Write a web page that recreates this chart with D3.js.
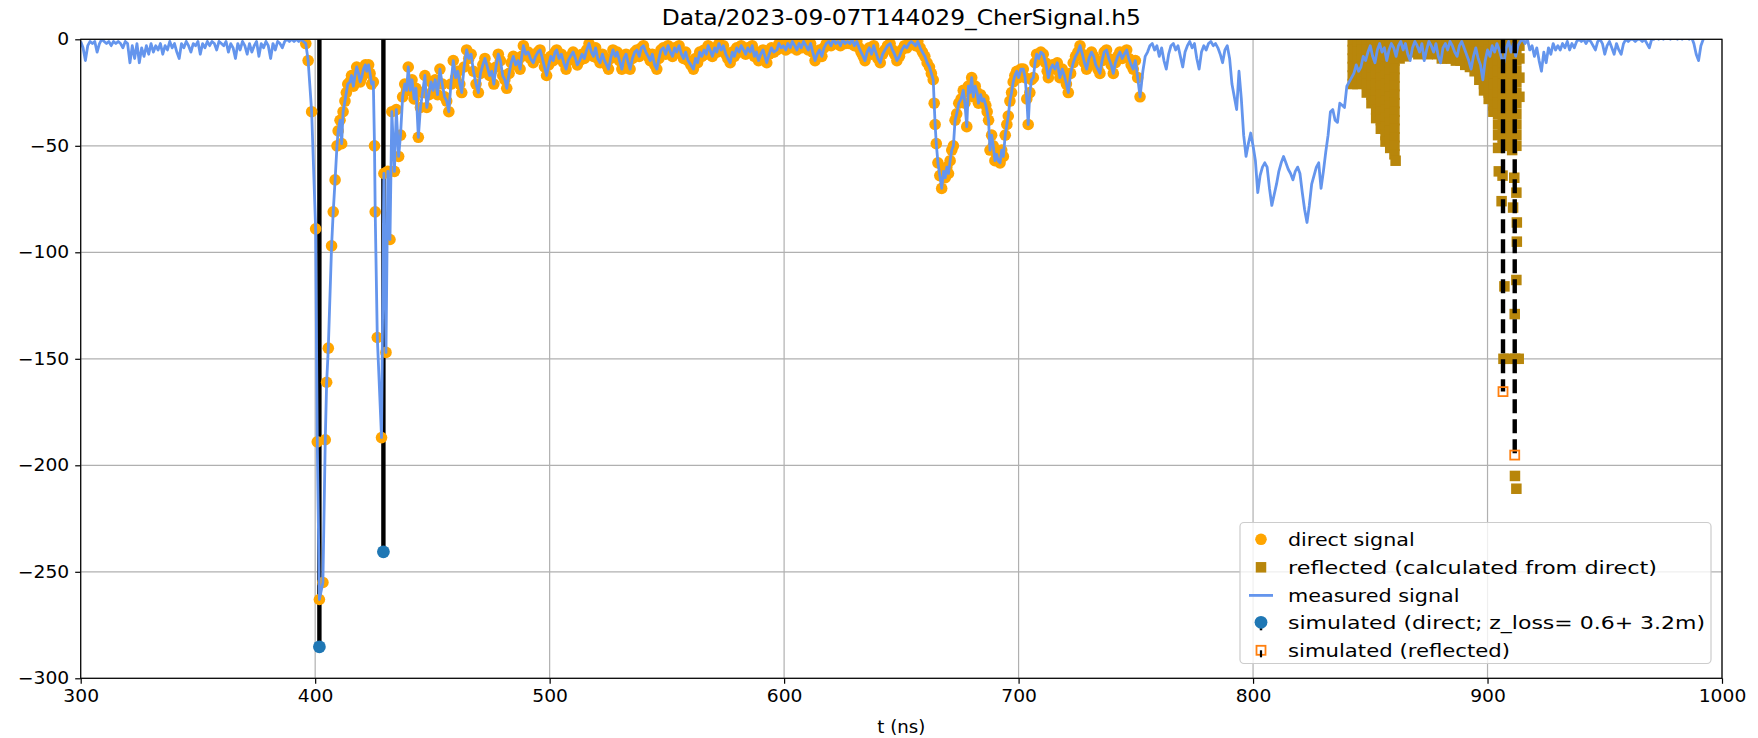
<!DOCTYPE html>
<html>
<head>
<meta charset="utf-8">
<script src="https://cdn.jsdelivr.net/npm/d3@7"></script>
<style>
  html, body { margin: 0; padding: 0; background: #fff; }
  svg { display: block; font-family: "DejaVu Sans", sans-serif; }
</style>
</head>
<body>
<svg id="chart" width="1758" height="738"></svg>
<script>
// ---- data -------------------------------------------------------------
const titleText = "Data/2023-09-07T144029_CherSignal.h5";
const xLabel = "t (ns)";
const xTicks = [300, 400, 500, 600, 700, 800, 900, 1000];
const yTicks = [0, -50, -100, -150, -200, -250, -300];

// measured signal before the direct window [t (ns), amplitude]
const measuredPre = [
[300,-1],[301,-4],[302,-10],[303,-3],[304,-1],[305,-2],[306,-1],[307,-6],[308,-2],[309,0],
[310,-1],[311,-2],[312,-1],[313,-3],[314,-1],[315,-2],[316,-1],[317,-2],[318,-4],[319,-1],
[320,-2],[321,-11],[322,-3],[323,-9],[324,-2],[325,-11],[326,-4],[327,-8],[328,-3],[329,-7],
[330,-2],[331,-6],[332,-3],[333,-5],[334,-2],[335,-7],[336,-3],[337,-5],[338,-1],[339,-4],
[340,-2],[341,-6],[342,-9],[343,-2],[344,-4],[345,-1],[346,-3],[347,-6],[348,-2],[349,-3],
[350,-1],[351,-7],[352,-2],[353,-4],[354,-1],[355,-3],[356,-1],[357,-2],[358,-5],[359,-1],
[360,-2],[361,-3],[362,-1],[363,-6],[364,-2],[365,-4],[366,-9],[367,-2],[368,-5],[369,-1],
[370,-3],[371,-7],[372,-2],[373,-6],[374,-3],[375,-1],[376,-8],[377,-2],[378,-4],[379,-1],
[380,-3],[381,-9],[382,-2],[383,-5],[384,-1],[385,-2],[386,-4],[387,-1],[388,0],[389,-1],
[390,0],[391,-1],[392,0],[393,-1],[394,0],[395,-1]
];

// direct signal [t (ns), amplitude]
const directSignal = [
[396,-2],[397,-10],[398.5,-34],[400.2,-89],[400.9,-189],[401.8,-263],[403.3,-255],[404.3,-188],[404.9,-161],[405.6,-145],
[407.0,-97],[407.7,-81],[408.5,-66],[409.3,-50],[409.8,-43],[410.6,-38],[411.3,-49],[411.9,-34],[412.7,-29],[413.3,-25],
[413.9,-21],[414.8,-20],[415.5,-17],[416.3,-22],[417.0,-17],[417.7,-13],[418.5,-16],[419.2,-20],[419.8,-18],[420.6,-14],
[421.4,-12],[422.0,-15],[422.8,-12],[423.4,-16],[424.1,-21],[424.8,-20],[425.3,-50],[425.6,-81],[426.5,-140],[428.3,-187],
[429.3,-63],[430.2,-147],[431.0,-62],[431.9,-94],[432.7,-34],[433.8,-62],[434.6,-33],[435.6,-55],[436.4,-45],[437.3,-27],
[438.2,-21],[439.0,-24],[439.7,-13],[440.5,-24],[441.3,-19],[442.2,-28],[443.0,-23],[444.0,-46],[444.9,-32],[445.8,-25],
[446.8,-17],[447.6,-32],[448.5,-26],[449.4,-20],[450.3,-24],[451.2,-19],[452.2,-26],[453.2,-14],[454.2,-21],[455.2,-27],
[456.1,-29],[457.0,-34],[457.9,-21],[458.9,-10],[459.9,-18],[460.8,-15],[461.7,-21],[462.5,-25],[463.5,-13],[464.6,-5],
[465.5,-9],[466.5,-7],[467.5,-15],[468.6,-21],[469.6,-25],[470.5,-16],[471.5,-12],[472.4,-9],[473.4,-13],[474.4,-17],
[475.3,-15],[476.2,-21],[477.1,-13],[478.1,-7],[479.0,-10],[480.0,-17],[480.9,-19],[481.7,-23],[482.7,-16],[483.6,-11],
[484.5,-8],[485.5,-12],[486.5,-10],[487.4,-14],[488.1,-8],[488.8,-3],[489.8,-7],[490.8,-6],[491.8,-9],[493.0,-11],
[494.0,-8],[495.0,-6],[495.9,-5],[496.9,-9],[497.8,-13],[498.7,-17],[499.6,-12],[500.5,-8],[501.5,-10],[502.3,-6],
[503.0,-5],[504.0,-9],[505.0,-7],[506.0,-11],[507.0,-14],[507.9,-10],[508.9,-8],[510.0,-6],[511.0,-9],[511.8,-12],
[512.8,-10],[513.8,-7],[514.8,-9],[515.8,-5],[516.8,-2],[517.8,-6],[518.7,-8],[519.6,-4],[520.5,-9],[521.5,-11],
[522.5,-7],[523.4,-10],[524.3,-12],[525.1,-14],[526.0,-9],[527.0,-5],[528.0,-8],[528.8,-6],[529.8,-10],[530.8,-14],
[531.7,-9],[532.6,-7],[533.5,-11],[534.3,-14],[535.3,-9],[536.3,-6],[537.2,-5],[538.2,-8],[539.1,-4],[540.0,-3],
[541.0,-6],[542.0,-8],[542.9,-10],[543.8,-7],[544.8,-12],[545.7,-14],[546.6,-9],[547.5,-5],[548.5,-4],[549.5,-7],
[550.5,-3],[551.5,-6],[552.4,-8],[553.3,-4],[554.2,-6],[555.2,-3],[556.2,-7],[557.1,-9],[558.0,-6],[559.0,-10],
[560.2,-12],[561.3,-14],[562.2,-9],[563.1,-11],[564.0,-6],[564.9,-8],[565.9,-5],[566.8,-7],[567.6,-3],[568.4,-5],
[569.4,-8],[570.4,-4],[571.3,-6],[572.2,-2],[573.2,-5],[574.1,-3],[575.1,-7],[576.0,-9],[577.0,-11],[577.9,-6],
[578.8,-8],[579.8,-4],[580.8,-6],[581.7,-3],[582.7,-5],[583.6,-7],[584.5,-4],[585.5,-6],[586.4,-3],[587.3,-8],
[588.2,-6],[589.1,-10],[590.0,-7],[591.0,-5],[591.8,-8],[592.6,-11],[593.6,-7],[594.6,-4],[595.6,-6],[596.9,-5],
[597.8,-2],[598.8,-4],[599.7,-3],[600.7,-5],[601.6,-2],[602.6,-4],[603.5,-1],[604.5,-3],[605.4,-5],[606.4,-2],
[607.3,-4],[608.3,-1],[609.3,-3],[610.3,-5],[611.3,-2],[612.2,-6],[613.2,-10],[614.1,-7],[615.1,-5],[616.1,-8],
[617.0,-4],[618.0,-2],[619.0,-1],[620.0,-3],[621.0,0],[622.0,-2],[623.0,-1],[624.0,-3],[625.0,0],[626.0,-2],
[627.0,-1],[628.1,-2],[629.0,0],[630.0,-3],[631.0,-1],[632.0,-4],[632.8,-6],[633.7,-8],[634.5,-10],[635.4,-6],
[636.3,-4],[637.3,-7],[638.2,-3],[639.1,-6],[640.0,-9],[641.0,-11],[642.0,-7],[643.0,-5],[644.1,-3],[645.2,-2],
[646.2,-5],[647.1,-7],[648.1,-10],[649.2,-8],[650.2,-5],[651.3,-3],[652.3,-4],[653.3,-2],[654.2,-1],[655.2,-2],
[656.1,-3],[657.0,-1],[658.0,-4],[659.0,-6],[660.0,-8],[661.0,-11],[662.0,-13],[662.8,-16],[663.6,-19],[664.0,-30],
[664.4,-40],[664.9,-49],[665.6,-58],[666.4,-64],[667.2,-70],[668.0,-62],[668.7,-65],[669.4,-60],[670.1,-63],[670.8,-57],
[671.5,-52],[672.2,-50],[672.9,-38],[673.6,-35],[674.5,-30],[675.5,-28],[676.4,-24],[677.1,-30],[677.9,-41],[678.6,-22],
[679.3,-25],[680.0,-18],[680.7,-27],[681.5,-22],[682.3,-25],[682.9,-30],[683.8,-26],[684.5,-29],[685.2,-28],[686.0,-31],
[686.6,-34],[687.2,-38],[687.8,-52],[688.5,-45],[689.2,-50],[689.9,-57],[690.6,-54],[691.3,-57],[692.1,-58],[692.8,-52],
[693.5,-55],[694.3,-45],[695.0,-40],[695.6,-36],[696.3,-29],[697.0,-25],[697.7,-20],[698.4,-17],[699.2,-15],[700.0,-18],
[701.0,-14],[702.0,-14],[702.8,-18],[703.5,-28],[704.1,-40],[704.8,-25],[705.5,-19],[706.3,-18],[707.0,-11],[707.7,-7],
[708.6,-9],[709.5,-6],[710.5,-7],[711.5,-11],[712.2,-15],[712.7,-18],[713.6,-14],[714.5,-12],[715.5,-14],[716.5,-11],
[717.6,-18],[718.6,-14],[719.5,-17],[720.4,-21],[721.2,-25],[722.2,-16],[723.3,-11],[724.3,-8],[725.3,-6],[726.2,-3],
[727.2,-7],[728.1,-11],[729.0,-14],[730.0,-9],[731.1,-6],[732.0,-8],[732.9,-12],[733.8,-14],[734.7,-16],[735.6,-10],
[736.5,-6],[737.5,-5],[738.5,-9],[739.5,-12],[740.4,-16],[741.3,-11],[742.3,-8],[743.2,-6],[744.2,-9],[745.1,-7],
[746.1,-5],[747.0,-9],[748.0,-12],[748.9,-14],[749.8,-10],[750.8,-18],[751.8,-27]
];

// measured signal after the direct window [t (ns), amplitude]
const measuredPost = [
[753,-15],[754,-8],[755,-6],[756,-3],[757,-2],[758,-5],[759,-3],[760,-8],[761,-4],[762,-10],
[763,-14],[764,-7],[765,-3],[766,-2],[767,-5],[768,-3],[769,-8],[770,-13],[771,-6],[772,-3],
[773,-1],[774,-4],[775,-2],[776,-9],[777,-14],[778,-6],[779,-3],[780,-5],[781,-2],[782,-1],
[783,-3],[784,-2],[785,-4],[786,-7],[787,-11],[788,-5],[789,-3],[790,-9],[791,-21],[792,-27],
[793,-33],[794,-15],[795,-28],[796,-45],[797,-55],[798,-49],[799,-44],[800,-50],[801,-57],[802,-72],
[803,-64],[804,-60],[805,-58],[806,-60],[807,-70],[808,-78],[809,-73],[810,-68],[811,-62],[812,-58],
[813,-55],[814,-58],[815,-61],[816,-63],[817,-66],[818,-62],[819,-60],[820,-63],[821,-72],[822,-80],
[823,-86],[824,-78],[825,-68],[826,-64],[827,-60],[828,-58],[829,-70],[830,-62],[831,-53],[832,-45],
[833,-34],[834,-33],[835,-38],[836,-39],[837,-30],[838,-31],[839,-32],[840,-22],[841,-20],[842,-18],
[843,-16],[844,-12],[845,-15],[846,-13],[847,-8],[848,-10],[849,-6],[850,-3],[851,-8],[852,-11],
[853,-5],[854,-2],[855,-6],[856,-4],[857,-10],[858,-5],[859,-2],[860,-4],[861,-8],[862,-3],
[863,-1],[864,-5],[865,-2],[866,-7],[867,-10],[868,-4],[869,-1],[870,-3],[871,-6],[872,-2],
[873,-10],[874,-5],[875,-1],[876,-3],[877,-6],[878,-2],[879,-8],[880,-11],[881,-4],[882,-2],
[883,-5],[884,-1],[885,-3],[886,-6],[887,-8],[888,-3],[889,-1],[890,-4],[891,-7],[892,-10],
[893,-14],[894,-8],[895,-4],[896,-9],[897,-12],[898,-19],[899,-10],[900,-5],[901,-8],[902,-3],
[903,-6],[904,-2],[905,-5],[906,-9],[907,-11],[908,-4],[909,-1],[910,-6],[911,-2],[912,-8],
[913,-3],[914,-1],[915,0],[916,-2],[917,0],[918,-5],[919,-3],[920,-8],[921,-4],[922,-10],
[923,-15],[924,-6],[925,-11],[926,-4],[927,-7],[928,-2],[929,-5],[930,-3],[931,-5],[932,-2],
[933,-4],[934,-1],[935,-5],[936,-2],[937,-4],[938,-1],[939,0],[940,-1],[941,0],[942,-2],
[943,0],[944,-1],[945,-3],[946,-5],[947,-1],[948,0],[949,-2],[950,-7],[951,-3],[952,-1],
[953,-4],[954,-7],[955,-2],[956,-5],[957,-7],[958,-2],[959,0],[960,-1],[961,0],[962,0],
[963,-1],[964,0],[965,0],[966,-1],[967,0],[968,-2],[969,-4],[970,0],[971,0],[972,1],
[973,0],[974,1],[975,0],[976,1],[977,1],[978,0],[979,1],[980,1],[981,0],[982,1],
[983,0],[984,1],[985,1],[986,0],[987,1],[988,-2],[989,-7],[990,-10],[991,-3],[992,0]
];

// reflected signal, calculated from the direct one [t (ns), amplitude]
const reflectedSignal = [
[842.5,-1],[842.5,-5],[842.5,-9],[842.5,-13],[842.5,-17],[842.5,-21],
[844.5,-2],[844.5,-6],[844.5,-10],[844.5,-14],[844.5,-18],[844.5,-21],
[846.5,-1],[846.5,-5],[846.5,-9],[846.5,-13],[846.5,-17],[846.5,-20],
[848.5,-1],[848.5,-5],[848.5,-9],[848.5,-13],[848.5,-17],[848.5,-21],[848.5,-25],
[850.5,-2],[850.5,-6],[850.5,-10],[850.5,-14],[850.5,-18],[850.5,-22],[850.5,-26],[850.5,-30],
[852.5,-1],[852.5,-5],[852.5,-9],[852.5,-13],[852.5,-17],[852.5,-21],[852.5,-25],[852.5,-29],[852.5,-33],[852.5,-37],
[854.5,-2],[854.5,-6],[854.5,-10],[854.5,-14],[854.5,-18],[854.5,-22],[854.5,-26],[854.5,-30],[854.5,-34],[854.5,-38],[854.5,-42],
[856.5,-1],[856.5,-5],[856.5,-9],[856.5,-13],[856.5,-17],[856.5,-21],[856.5,-25],[856.5,-29],[856.5,-33],[856.5,-37],[856.5,-41],[856.5,-45],[856.5,-48],
[858.5,-3],[858.5,-7],[858.5,-11],[858.5,-15],[858.5,-19],[858.5,-23],[858.5,-27],[858.5,-31],[858.5,-35],[858.5,-39],[858.5,-43],[858.5,-47],[858.5,-51],
[860.3,-2],[860.3,-6],[860.3,-10],[860.3,-14],[860.3,-18],[860.3,-22],[860.3,-26],[860.3,-30],[860.3,-34],[860.3,-38],[860.3,-42],[860.3,-46],[860.3,-50],[860.3,-54],[860.8,-57],
[862.5,-1],[862.5,-5],[862.5,-9],[864.5,-1],[864.5,-5],[864.5,-8],[866.5,-2],[866.5,-6],[868.5,-1],[868.5,-6],
[870.5,-2],[870.5,-7],[872.5,-1],[872.5,-6],[874.5,-2],[874.5,-7],[876.5,-1],[876.5,-6],[878.5,-2],[878.5,-7],
[880.5,-1],[880.5,-5],[880.5,-9],[882.5,-2],[882.5,-6],[882.5,-9],[884.5,-1],[884.5,-5],[884.5,-9],[886.5,-2],
[886.5,-6],[886.5,-10],[888.5,-1],[888.5,-5],[888.5,-10],[890.5,-2],[890.5,-6],[890.5,-12],[892.5,-1],[892.5,-5],
[892.5,-9],[892.5,-13],[894.5,-2],[894.5,-6],[894.5,-11],[894.5,-15],[896.5,-1],[896.5,-5],[896.5,-10],[896.5,-15],
[896.5,-19],[898.5,-2],[898.5,-6],[898.5,-11],[898.5,-16],[898.5,-21],[898.5,-24],
[900.5,-1],[900.5,-5],[900.5,-10],[900.5,-15],[900.5,-20],[900.5,-25],[900.5,-28],
[902.5,-2],[902.5,-6],[902.5,-11],[902.5,-16],[902.5,-21],[902.5,-26],[902.5,-31],[902.5,-34],
[904.5,-1],[904.5,-5],[904.5,-10],[904.5,-15],[904.5,-20],[904.5,-25],[904.5,-30],[904.5,-35],[904.5,-40],[904.5,-45],[904.5,-51],[904.8,-62],
[906.5,-2],[906.5,-6],[906.5,-11],[906.5,-16],[906.5,-21],[906.5,-26],[906.5,-31],[906.5,-36],[906.5,-41],[906.5,-46],[906.5,-50],[906.4,-64],[906.0,-76],[907.2,-116],[906.8,-150],
[908.5,-1],[908.5,-5],[908.5,-10],[908.5,-15],[908.5,-20],[908.5,-25],[908.5,-30],[908.5,-35],[908.5,-40],[908.5,-45],[908.5,-50],[908.8,-150],
[910.5,-2],[910.5,-6],[910.5,-11],[910.5,-16],[910.5,-21],[910.5,-26],[910.5,-31],[910.5,-36],[910.5,-41],[910.5,-46],[910.5,-52],[911.4,-65],[910.9,-79],
[912.3,-1],[912.3,-5],[912.3,-10],[912.3,-15],[912.3,-20],[912.3,-25],[912.3,-30],[912.3,-35],[912.3,-40],[912.3,-45],[912.3,-50],[912.3,-72],
[912.5,-86],[912.5,-95],[912.3,-113],[911.6,-129],[911.8,-150],[913.3,-150],[911.7,-205],[912.3,-211],
[913.6,-3],[913.6,-9],[913.6,-18],[913.6,-27]
];

// simulated pulses [t (ns), amplitude]
const simulatedDirect = [[401.8,-285.2],[429.1,-240.6]];
const simulatedReflected = [[906.6,-165.4],[911.6,-195.2]];

const legendLabels = [
  "direct signal",
  "reflected (calculated from direct)",
  "measured signal",
  "simulated (direct; z_loss= 0.6+ 3.2m)",
  "simulated (reflected)"
];

// ---- colours ----------------------------------------------------------
const cDirect = "#FFA500";
const cReflected = "#B8860B";
const cMeasured = "#6495ED";
const cSimDirect = "#1f77b4";
const cSimReflected = "#ff7f0e";

// ---- layout -----------------------------------------------------------
const W = 1758, H = 738;
const plot = { left: 80.7, right: 1722, top: 39.3, bottom: 678.3 };
const textStretch = 1.1;   // glyphs are drawn slightly wide

const svg = d3.select("#chart");
svg.append("rect").attr("width", W).attr("height", H).attr("fill", "#fff");

const x = d3.scaleLinear().domain([300, 1000]).range([plot.left, plot.right]);
const y = d3.scaleLinear().domain([-300, 0]).range([plot.bottom, plot.top]);

svg.append("defs").append("clipPath").attr("id", "plotClip")
  .append("rect")
  .attr("x", plot.left).attr("y", plot.top)
  .attr("width", plot.right - plot.left).attr("height", plot.bottom - plot.top);

// grid
const grid = svg.append("g").attr("stroke", "#b0b0b0").attr("stroke-width", 1.2);
grid.selectAll(".gx").data(xTicks).join("line")
  .attr("x1", d => x(d)).attr("x2", d => x(d))
  .attr("y1", plot.top).attr("y2", plot.bottom);
grid.selectAll(".gy").data(yTicks).join("line")
  .attr("x1", plot.left).attr("x2", plot.right)
  .attr("y1", d => y(d)).attr("y2", d => y(d));

const g = svg.append("g").attr("clip-path", "url(#plotClip)");

// solid stems of the simulated direct pulses
g.selectAll(".stemD").data(simulatedDirect).join("line")
  .attr("x1", d => x(d[0])).attr("x2", d => x(d[0]))
  .attr("y1", y(0)).attr("y2", d => y(d[1]))
  .attr("stroke", "#000").attr("stroke-width", 4.4);

// direct signal markers
g.selectAll(".direct").data(directSignal).join("circle")
  .attr("cx", d => x(d[0])).attr("cy", d => y(d[1]))
  .attr("r", 5.8).attr("fill", cDirect);

// reflected signal markers
const sq = 10.5;
g.selectAll(".refl").data(reflectedSignal).join("rect")
  .attr("x", d => x(d[0]) - sq / 2).attr("y", d => y(d[1]) - sq / 2)
  .attr("width", sq).attr("height", sq).attr("fill", cReflected);

// measured signal line
const measured = measuredPre.concat(directSignal, measuredPost);
g.append("path").datum(measured)
  .attr("d", d3.line().x(d => x(d[0])).y(d => y(d[1])))
  .attr("fill", "none").attr("stroke", cMeasured)
  .attr("stroke-width", 2.8).attr("stroke-linejoin", "round");

// dashed stems of the simulated reflected pulses
g.selectAll(".stemR").data(simulatedReflected).join("line")
  .attr("x1", d => x(d[0])).attr("x2", d => x(d[0]))
  .attr("y1", y(0)).attr("y2", d => y(d[1]))
  .attr("stroke", "#000").attr("stroke-width", 4.4)
  .attr("stroke-dasharray", "14,6");

// simulated markers
g.selectAll(".simD").data(simulatedDirect).join("circle")
  .attr("cx", d => x(d[0])).attr("cy", d => y(d[1]))
  .attr("r", 6.4).attr("fill", cSimDirect);
const osq = 9;
g.selectAll(".simR").data(simulatedReflected).join("rect")
  .attr("x", d => x(d[0]) - osq / 2).attr("y", d => y(d[1]) - osq / 2)
  .attr("width", osq).attr("height", osq)
  .attr("fill", "none").attr("stroke", cSimReflected).attr("stroke-width", 1.8);

// stretch a text element horizontally to a given factor or width
function widen(sel, factor, width) {
  sel.each(function () {
    const w = width || this.getComputedTextLength() * factor;
    d3.select(this).attr("textLength", w).attr("lengthAdjust", "spacingAndGlyphs");
  });
}

// axes
const fmt = d => (d < 0 ? "\u2212" + Math.abs(d) : String(d));
const xAxis = svg.append("g").attr("transform", `translate(0,${plot.bottom})`)
  .call(d3.axisBottom(x).tickValues(xTicks).tickFormat(fmt).tickSize(5.5).tickPadding(6));
const yAxis = svg.append("g").attr("transform", `translate(${plot.left},0)`)
  .call(d3.axisLeft(y).tickValues(yTicks).tickFormat(fmt).tickSize(5.5).tickPadding(6));
[xAxis, yAxis].forEach(a => {
  a.select(".domain").remove();
  a.selectAll(".tick line").attr("stroke", "#000").attr("stroke-width", 1.2);
  a.selectAll(".tick text").attr("fill", "#000")
    .style("font-family", "DejaVu Sans").style("font-size", "17px");
  widen(a.selectAll(".tick text"), textStretch);
});

// frame
svg.append("rect")
  .attr("x", plot.left).attr("y", plot.top)
  .attr("width", plot.right - plot.left).attr("height", plot.bottom - plot.top)
  .attr("fill", "none").attr("stroke", "#000").attr("stroke-width", 1.2);

// title and axis label
const title = svg.append("text").attr("x", (plot.left + plot.right) / 2).attr("y", 25)
  .attr("text-anchor", "middle").style("font-size", "21px").attr("fill", "#000")
  .text(titleText);
widen(title, 1, 479);
const xl = svg.append("text").attr("x", (plot.left + plot.right) / 2).attr("y", 733)
  .attr("text-anchor", "middle").style("font-size", "18px").attr("fill", "#000")
  .text(xLabel);
widen(xl, 1, 48);

// legend
const lg = svg.append("g");
lg.append("rect").attr("x", 1240).attr("y", 522.5).attr("width", 471).attr("height", 141)
  .attr("rx", 4).attr("fill", "#fff").attr("fill-opacity", 0.8)
  .attr("stroke", "#cccccc").attr("stroke-width", 1.2);
const rowY = [539.3, 567.3, 595.4, 622.3, 650.3];
const legendWidths = [126.7, 369, 171.5, 417, 222];
const hx = 1261;
lg.append("circle").attr("cx", hx).attr("cy", rowY[0]).attr("r", 5.8).attr("fill", cDirect);
lg.append("rect").attr("x", hx - sq / 2).attr("y", rowY[1] - sq / 2)
  .attr("width", sq).attr("height", sq).attr("fill", cReflected);
lg.append("line").attr("x1", hx - 12).attr("x2", hx + 12)
  .attr("y1", rowY[2]).attr("y2", rowY[2])
  .attr("stroke", cMeasured).attr("stroke-width", 2.8);
lg.append("line").attr("x1", hx).attr("x2", hx).attr("y1", rowY[3]).attr("y2", rowY[3] + 8)
  .attr("stroke", "#000").attr("stroke-width", 2.5);
lg.append("circle").attr("cx", hx).attr("cy", rowY[3]).attr("r", 6.4).attr("fill", cSimDirect);
lg.append("rect").attr("x", hx - osq / 2).attr("y", rowY[4] - osq / 2)
  .attr("width", osq).attr("height", osq)
  .attr("fill", "#fff").attr("stroke", cSimReflected).attr("stroke-width", 1.8);
lg.append("line").attr("x1", hx).attr("x2", hx).attr("y1", rowY[4]).attr("y2", rowY[4] + 7)
  .attr("stroke", "#000").attr("stroke-width", 2.2);
lg.selectAll(".lt").data(legendLabels).join("text")
  .attr("x", 1288).attr("y", (d, i) => rowY[i] + 6.5)
  .style("font-size", "18px").attr("fill", "#000")
  .text(d => d)
  .each(function (d, i) { widen(d3.select(this), 1, legendWidths[i]); });
</script>
</body>
</html>
